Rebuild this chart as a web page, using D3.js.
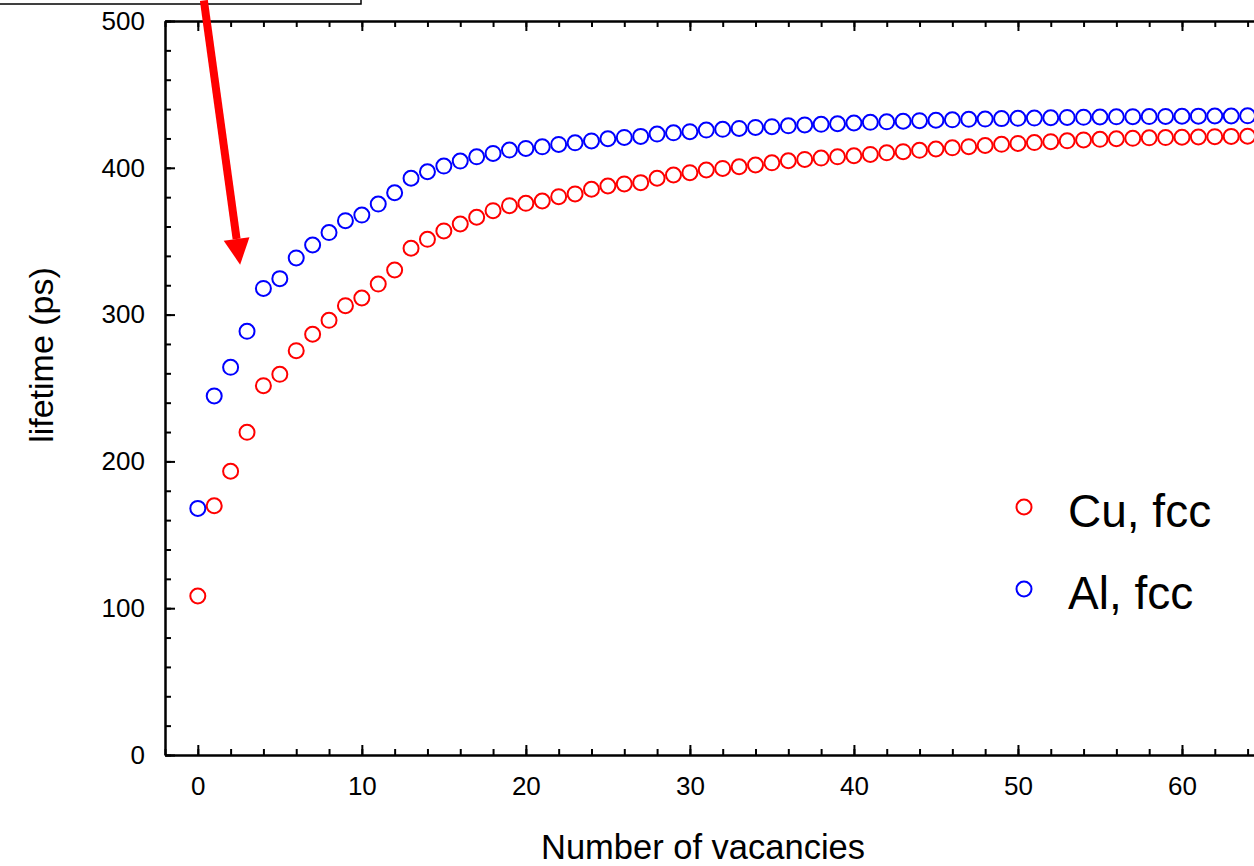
<!DOCTYPE html>
<html>
<head>
<meta charset="utf-8">
<script src="https://cdn.jsdelivr.net/npm/d3@7"></script>
<style>
  body { margin: 0; background: #fff; }
  svg { display: block; font-family: "Liberation Sans", Arial, sans-serif; }
</style>
</head>
<body>
<svg id="chart"></svg>
<script>
// positron lifetime vs number of vacancies
var vacancies = d3.range(0, 65);

var cuLifetime = [
  108.3, 169.8, 193.3, 219.8, 251.6, 259.3, 275.4, 286.6, 296.1, 306.1,
  311.3, 320.8, 330.4, 345.2, 351.3, 357.0, 361.7, 366.3, 370.8, 374.2,
  375.8, 377.4, 380.3, 382.2, 385.4, 387.6, 389.0, 389.9, 392.9, 395.1,
  396.7, 398.5, 399.6, 400.7, 401.9, 403.4, 404.8, 405.7, 406.6, 407.5,
  408.2, 409.1, 410.2, 411.0, 411.9, 412.8, 413.6, 414.4, 415.2, 416.0,
  416.6, 417.2, 417.8, 418.4, 419.0, 419.4, 419.8, 420.1, 420.4, 420.6,
  420.8, 421.0, 421.2, 421.4, 421.5
];

var alLifetime = [
  168.0, 244.6, 264.1, 288.6, 317.8, 324.5, 338.6, 347.4, 355.9, 364.0,
  367.8, 375.3, 383.0, 392.9, 397.3, 401.2, 404.6, 407.5, 409.8, 412.1,
  413.2, 414.3, 415.9, 417.0, 418.3, 419.8, 420.7, 421.4, 423.0, 423.8,
  424.6, 425.7, 426.2, 426.8, 427.5, 428.0, 428.6, 429.2, 429.6, 430.0,
  430.5, 431.0, 431.3, 431.7, 432.1, 432.4, 432.7, 433.0, 433.2, 433.5,
  433.7, 433.9, 434.1, 434.3, 434.4, 434.6, 434.7, 434.8, 434.9, 435.0,
  435.1, 435.2, 435.3, 435.3, 435.4
];

var seriesNames = ["Cu, fcc", "Al, fcc"];
var seriesColors = ["#ff0000", "#0000ff"];

var xMajorTicks = [0, 10, 20, 30, 40, 50, 60];
var xMinorTicks = d3.range(-2, 66, 2);
var yMajorTicks = [0, 100, 200, 300, 400, 500];
var yMinorTicks = d3.range(0, 501, 20);

// arrow annotation, in data units: [start, tip]
var arrowStart = [0.37, 514];
var arrowTip = [2.58, 334];

var width = 1254;
var height = 866;

var dimensions = {
  left: 165,
  top: 21,
  bottom: 755,
  right: 1264
};

var svg = d3.select("#chart").attr("width", width).attr("height", height);

var xScale = d3.scaleLinear().domain([-2, 65]).range([dimensions.left, dimensions.right]);
var yScale = d3.scaleLinear().domain([0, 500]).range([dimensions.bottom, dimensions.top]);

// box that sits in the top left corner (mostly cut off)
svg.append("rect")
  .attr("x", -5)
  .attr("y", -60)
  .attr("width", 366)
  .attr("height", 64)
  .attr("fill", "none")
  .attr("stroke", "#000")
  .attr("stroke-width", 1.5);

// axes, ticks point inwards
function styleAxis(g) {
  g.select(".domain").attr("stroke-width", 2);
  g.selectAll(".tick line").attr("stroke-width", 2);
  g.selectAll("text").attr("fill", "#000");
}

svg.append("g")
  .attr("transform", "translate(0," + dimensions.bottom + ")")
  .call(d3.axisBottom(xScale).tickValues(xMinorTicks).tickSize(-6).tickFormat("").tickSizeOuter(0))
  .call(styleAxis);

svg.append("g")
  .attr("transform", "translate(0," + dimensions.bottom + ")")
  .call(d3.axisBottom(xScale).tickValues(xMajorTicks).tickSize(-10).tickPadding(19).tickSizeOuter(0))
  .call(styleAxis)
  .selectAll("text")
  .style("font-size", "26px")
  .attr("dy", "0.8em");

svg.append("g")
  .attr("transform", "translate(0," + dimensions.top + ")")
  .call(d3.axisTop(xScale).tickValues(xMinorTicks).tickSize(-6).tickFormat("").tickSizeOuter(0))
  .call(styleAxis);

svg.append("g")
  .attr("transform", "translate(0," + dimensions.top + ")")
  .call(d3.axisTop(xScale).tickValues(xMajorTicks).tickSize(-10).tickFormat("").tickSizeOuter(0))
  .call(styleAxis);

svg.append("g")
  .attr("transform", "translate(" + dimensions.left + ",0)")
  .call(d3.axisLeft(yScale).tickValues(yMinorTicks).tickSize(-6).tickFormat("").tickSizeOuter(0))
  .call(styleAxis);

svg.append("g")
  .attr("transform", "translate(" + dimensions.left + ",0)")
  .call(d3.axisLeft(yScale).tickValues(yMajorTicks).tickSize(-10).tickPadding(20).tickSizeOuter(0))
  .call(styleAxis)
  .selectAll("text")
  .style("font-size", "26px");

// axis titles
svg.append("text")
  .attr("x", 703)
  .attr("y", 859)
  .attr("text-anchor", "middle")
  .style("font-size", "34.5px")
  .text("Number of vacancies");

svg.append("text")
  .attr("transform", "translate(53," + 355 + ") rotate(-90)")
  .attr("text-anchor", "middle")
  .style("font-size", "34px")
  .text("lifetime (ps)");

// scatter series
var allSeries = [cuLifetime, alLifetime];
allSeries.forEach(function (values, s) {
  svg.append("g")
    .selectAll("circle")
    .data(vacancies)
    .enter()
    .append("circle")
    .attr("cx", function (d) { return xScale(d); })
    .attr("cy", function (d, i) { return yScale(values[i]); })
    .attr("r", 7.5)
    .attr("fill", "none")
    .attr("stroke", seriesColors[s])
    .attr("stroke-width", 2);
});

// red arrow
var ax0 = xScale(arrowStart[0]), ay0 = yScale(arrowStart[1]);
var ax1 = xScale(arrowTip[0]), ay1 = yScale(arrowTip[1]);
var angle = Math.atan2(ay1 - ay0, ax1 - ax0);
var headLen = 26, headHalf = 13;
var bx = ax1 - headLen * Math.cos(angle), by = ay1 - headLen * Math.sin(angle);

svg.append("line")
  .attr("x1", ax0).attr("y1", ay0)
  .attr("x2", bx).attr("y2", by)
  .attr("stroke", "#ff0000")
  .attr("stroke-width", 8);

svg.append("polygon")
  .attr("points", [
    [ax1, ay1],
    [bx + headHalf * Math.sin(angle), by - headHalf * Math.cos(angle)],
    [bx - headHalf * Math.sin(angle), by + headHalf * Math.cos(angle)]
  ].map(function (p) { return p.join(","); }).join(" "))
  .attr("fill", "#ff0000");

// legend
var legend = svg.append("g");
seriesNames.forEach(function (name, i) {
  var ly = 507 + i * 82;
  legend.append("circle")
    .attr("cx", 1024)
    .attr("cy", ly)
    .attr("r", 7.5)
    .attr("fill", "none")
    .attr("stroke", seriesColors[i])
    .attr("stroke-width", 2);
  legend.append("text")
    .attr("x", 1068)
    .attr("y", ly + 20)
    .style("font-size", "46px")
    .text(name);
});
</script>
</body>
</html>
